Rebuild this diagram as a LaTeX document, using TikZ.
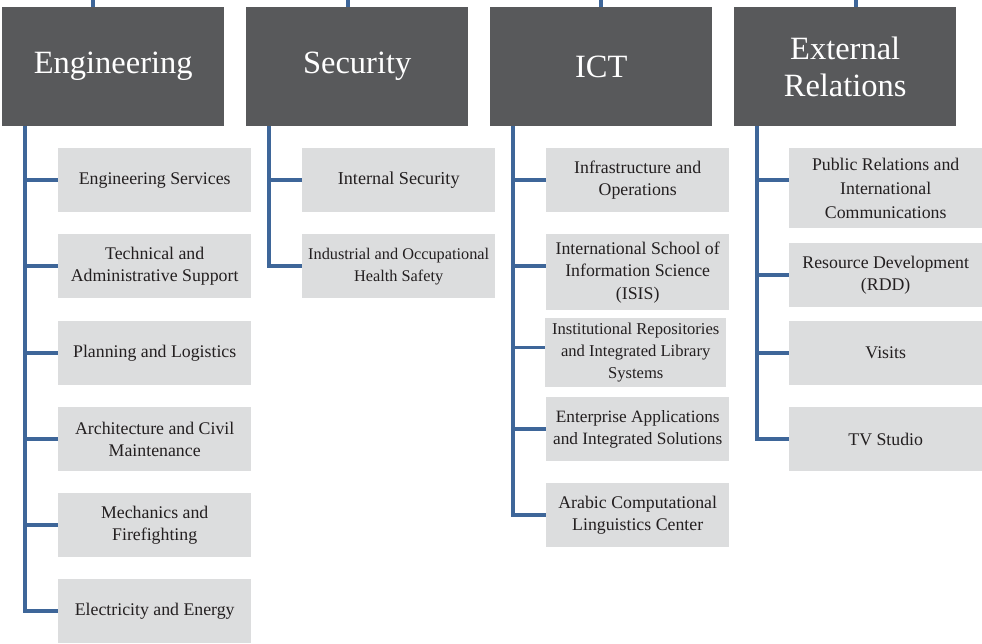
\documentclass[tikz,border=0pt]{standalone}
\usepackage{fontspec}
\setmainfont{Liberation Serif}
\definecolor{hdr}{HTML}{58595B}
\definecolor{subfill}{HTML}{DCDDDE}
\definecolor{lnblue}{HTML}{3E6699}
\definecolor{txtdark}{HTML}{231F20}
\begin{document}
\begin{tikzpicture}[x=1pt,y=-1pt,
  hbox/.style={fill=hdr, text=white, anchor=north west, minimum width=222pt, minimum height=119pt, inner sep=0pt, align=center, font=\fontsize{32.5}{37}\selectfont},
  sbox/.style={fill=subfill, text=txtdark, anchor=north west, minimum width=193pt, minimum height=64pt, inner sep=0pt, align=center, font=\fontsize{17.8}{22.5}\selectfont},
  ibox/.style={sbox, minimum width=183pt},
  conn/.style={draw=lnblue, line width=3.5pt}]
\useasboundingbox (0,0) rectangle (982,644);

% headers
\node[hbox] (eng) at (2,7) {Engineering};
\node[hbox] (sec) at (246,7) {Security};
\node[hbox] (ict) at (490,7) {ICT};
\node[hbox] (ext) at (734,7) {External\\Relations};

% Engineering
\node[sbox] (e1) at (58,148) {Engineering Services};
\node[sbox] (e2) at (58,234) {Technical and\\Administrative Support};
\node[sbox] (e3) at (58,321) {Planning and Logistics};
\node[sbox] (e4) at (58,407) {Architecture and Civil\\Maintenance};
\node[sbox] (e5) at (58,493) {Mechanics and\\Firefighting};
\node[sbox] (e6) at (58,579) {Electricity and Energy};

% Security
\node[sbox, font=\fontsize{18.2}{22.5}\selectfont] (s1) at (302,148) {Internal Security};
\node[sbox, font=\fontsize{16.3}{22}\selectfont] (s2) at (302,234) {Industrial and Occupational\\Health Safety};

% ICT
\node[ibox] (i1) at (546,148) {Infrastructure and\\Operations};
\node[ibox, minimum height=76pt] (i2) at (546,234) {International School of\\Information Science\\(ISIS)};
\node[ibox, minimum width=181pt, minimum height=69pt, font=\fontsize{16.6}{21.7}\selectfont] (i3) at (545,318) {Institutional Repositories\\and Integrated Library\\Systems};
\node[ibox, font=\fontsize{17.3}{22.5}\selectfont] (i4) at (546,397) {Enterprise Applications\\and Integrated Solutions};
\node[ibox] (i5) at (546,483) {Arabic Computational\\Linguistics Center};

% External Relations
\node[sbox, minimum height=80pt, font=\fontsize{17.8}{24}\selectfont] (x1) at (789,148) {Public Relations and\\International\\Communications};
\node[sbox] (x2) at (789,243) {Resource Development\\(RDD)};
\node[sbox] (x3) at (789,321) {Visits};
\node[sbox] (x4) at (789,407) {TV Studio};

% top stubs
\coordinate (eTop) at (93,0);
\coordinate (sTop) at (348,0);
\coordinate (iTop) at (601,0);
\coordinate (xTop) at (856,0);
\draw[conn] (eTop) -- (eTop |- eng.north);
\draw[conn] (sTop) -- (sTop |- sec.north);
\draw[conn] (iTop) -- (iTop |- ict.north);
\draw[conn] (xTop) -- (xTop |- ext.north);

% spines
\coordinate (eS) at (25,126);
\coordinate (sS) at (269,126);
\coordinate (iS) at (513,126);
\coordinate (xS) at (757,126);

\foreach \n in {e1,e2,e3,e4,e5,e6} { \draw[conn] (eS) |- (\n.west); }
\foreach \n in {s1,s2} { \draw[conn] (sS) |- (\n.west); }
\draw[conn] (iS) |- (i1.west);
\draw[conn] (iS) |- ([yshift=6pt]i2.west);
\draw[conn] (iS) |- ([yshift=5pt]i3.west);
\draw[conn] (iS) |- (i4.west);
\draw[conn] (iS) |- (i5.west);
\draw[conn] (xS) |- ([yshift=8pt]x1.west);
\draw[conn] (xS) |- (x2.west);
\draw[conn] (xS) |- (x3.west);
\draw[conn] (xS) |- (x4.west);
\end{tikzpicture}
\end{document}
